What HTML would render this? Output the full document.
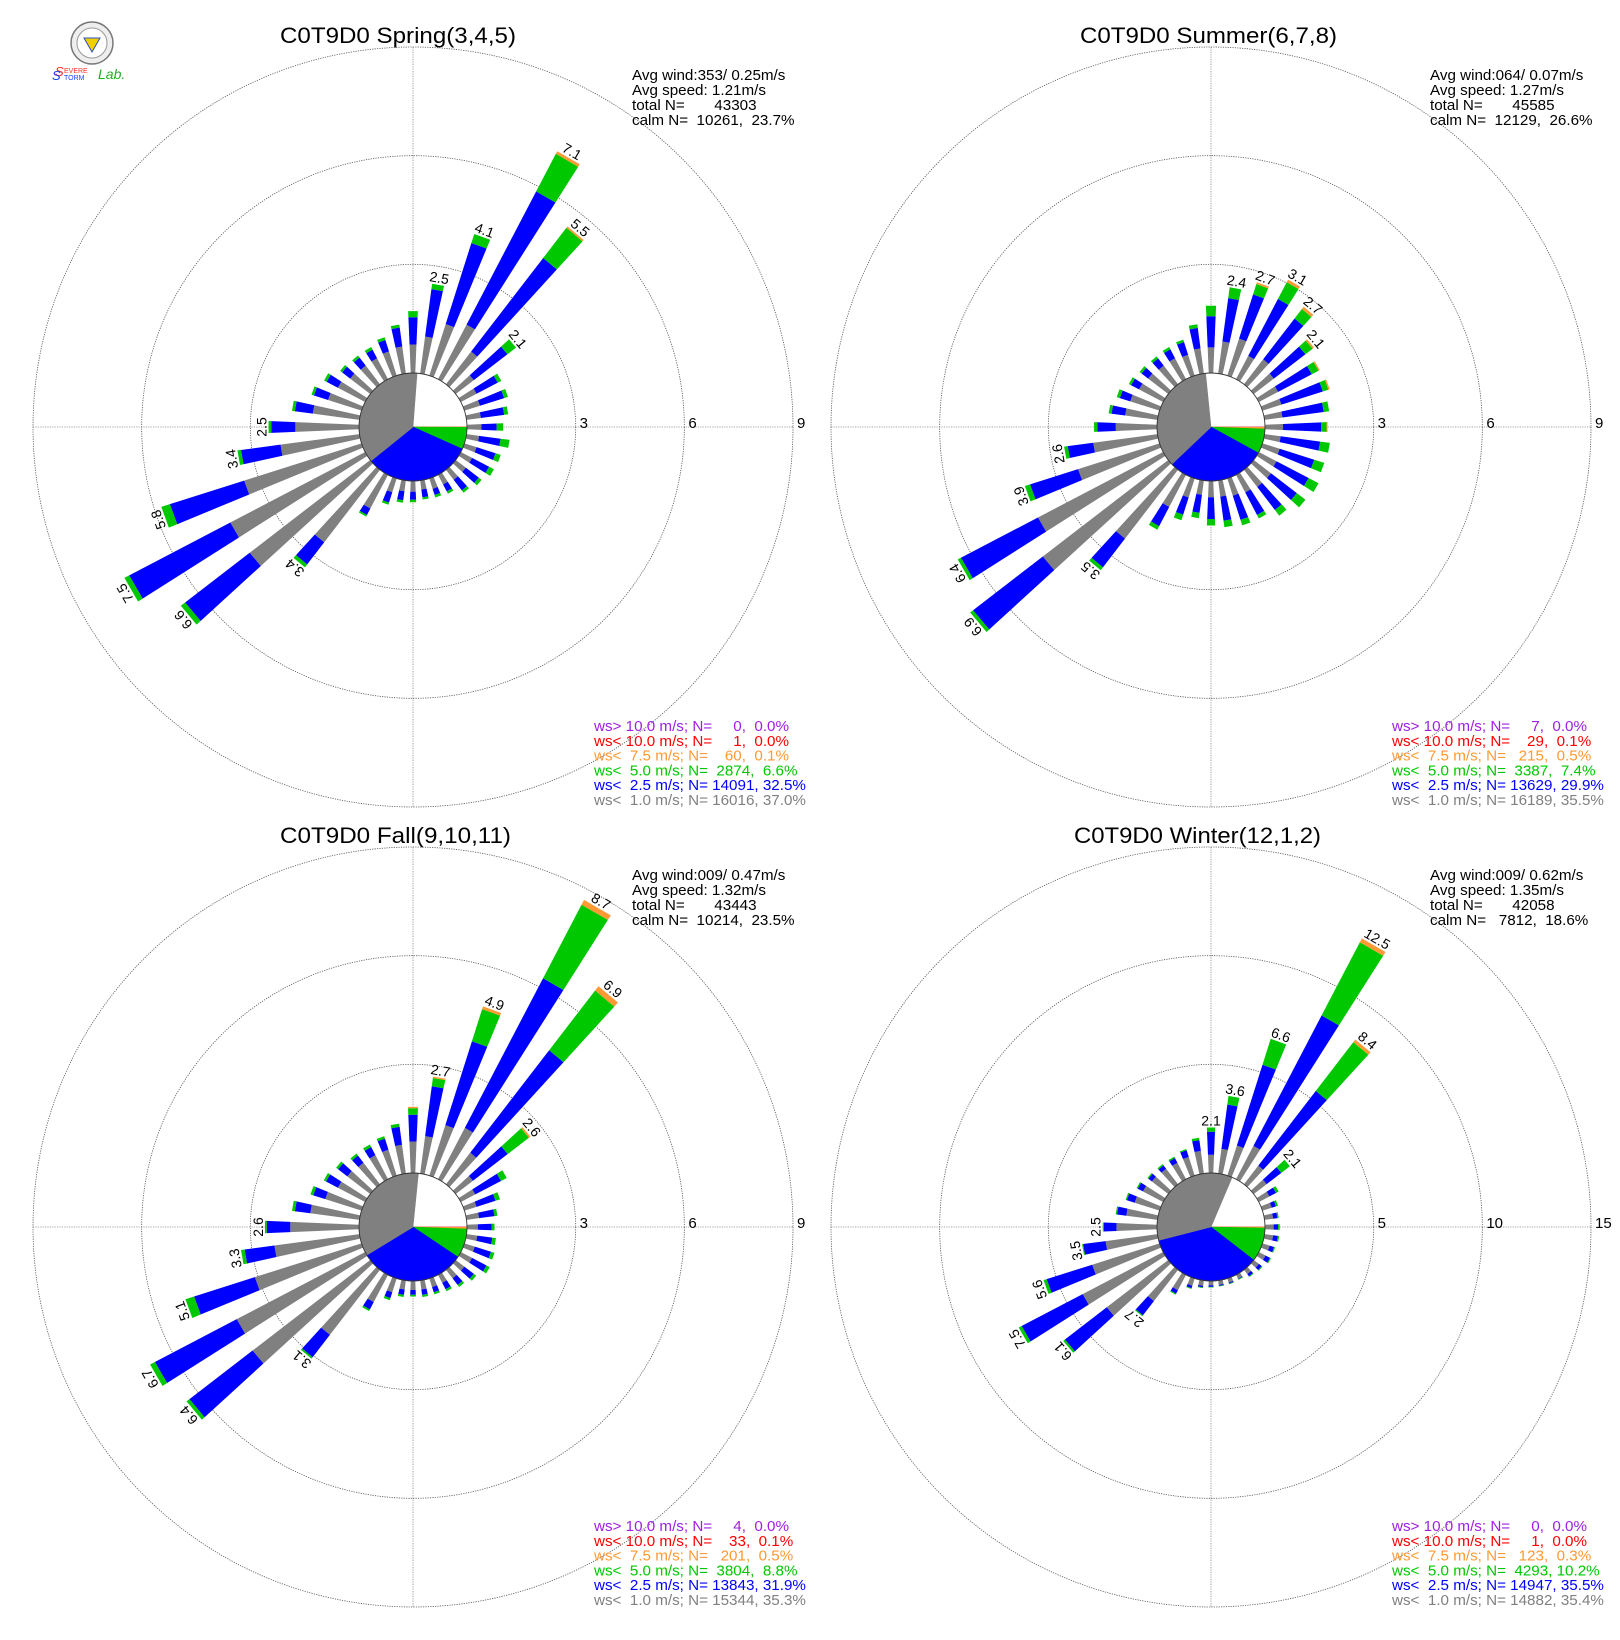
<!DOCTYPE html>
<html><head><meta charset="utf-8"><style>
html,body{margin:0;padding:0;background:#fff;}
svg{display:block;font-family:"Liberation Sans",sans-serif;}
</style></head><body>
<svg id="chart" width="1620" height="1640" viewBox="0 0 1620 1640" xmlns="http://www.w3.org/2000/svg">
<g>
<circle cx="92" cy="43" r="21" fill="#eee" stroke="#777" stroke-width="1.5"/>
<circle cx="92" cy="43" r="15" fill="#fff" stroke="#999" stroke-width="1"/>
<polygon points="84,38 100,38 92,52" fill="#f0d000" stroke="#3050c0" stroke-width="1"/>
<text x="55" y="76" font-size="13" font-style="italic" fill="#ff3020">S</text>
<text x="52" y="80" font-size="13" font-style="italic" fill="#2040ff">S</text>
<text x="64" y="73" font-size="7" fill="#ff3020">EVERE</text>
<text x="64" y="80" font-size="7" fill="#2040ff">TORM</text>
<text x="98" y="79" font-size="14" font-style="italic" fill="#20b020">Lab.</text>
</g>
</svg>
<script>
const directions = [0,10,20,30,40,50,60,70,80,90,100,110,120,130,140,150,160,170,180,190,200,210,220,230,240,250,260,270,280,290,300,310,320,330,340,350];

const spring_wsLt1 = [.79,1.03,1.49,1.7,1.14,.63,.49,.45,.4,.4,.35,.35,.35,.35,.35,.3,.3,.25,.3,.3,.4,1.05,2.53,4.2,4.2,3.4,2.2,1.76,1.3,.97,.85,.7,.65,.65,.7,.75];
const spring_wsLt25 = [1.54,2.35,3.84,5.85,4.4,1.8,1.15,1.15,1.05,.82,.95,.9,.88,.8,.72,.52,.48,.47,.52,.55,.7,1.25,3.3,6.45,7.35,5.55,3.3,2.42,1.8,1.38,1.2,.98,.93,.92,1.03,1.28];
const spring_total = [1.71,2.5,4.1,7.1,5.5,2.1,1.26,1.26,1.16,1.0,1.2,1.05,1.03,.9,.8,.59,.55,.53,.59,.62,.76,1.3,3.4,6.6,7.5,5.8,3.4,2.5,1.88,1.45,1.28,1.05,1.0,1.0,1.11,1.36];
const spring_orange = [0,0,0,.08,.05,0,0,0,0,0,0,0,0,0,0,0,0,0,0,0,0,0,0,0,0,0,0,0,0,0,0,0,0,0,0,0];

const summer_wsLt1 = [.71,.89,1.07,.73,.87,.7,.6,.55,.5,.5,.45,.5,.55,.6,.6,.55,.5,.45,.45,.4,.55,1.0,2.4,4.37,3.9,2.36,1.79,1.14,.9,.85,.75,.7,.65,.65,.6,.7];
const summer_wsLt25 = [1.57,2.1,2.35,2.5,2.29,1.8,1.65,1.75,1.65,1.55,1.55,1.5,1.55,1.5,1.4,1.25,1.2,1.12,1.05,.9,1.05,1.6,3.4,6.8,6.3,3.75,2.5,1.65,1.28,1.15,1.0,.93,.9,.93,.97,1.27];
const summer_total = [1.86,2.4,2.7,3.1,2.7,2.1,1.9,1.95,1.8,1.73,1.82,1.79,1.86,1.8,1.6,1.36,1.36,1.3,1.23,1.05,1.21,1.71,3.5,6.9,6.4,3.9,2.6,1.74,1.36,1.24,1.07,1.0,.97,1.0,1.04,1.37];
const summer_orange = [0,0,.05,.08,.08,.05,.04,.04,0,.03,0,0,0,0,0,0,0,0,0,0,0,0,0,0,0,0,0,0,0,0,0,0,0,0,0,0];

const fall_wsLt1 = [.87,1.04,1.46,1.6,1.1,.6,.45,.35,.35,.3,.3,.3,.35,.3,.3,.25,.25,.25,.25,.25,.4,.85,2.27,4.1,4.0,3.09,2.37,1.9,1.37,1.05,.85,.8,.75,.75,.75,.8];
const fall_wsLt25 = [1.61,2.43,3.89,6.26,4.67,1.81,1.25,.9,.78,.68,.72,.77,.8,.63,.53,.45,.4,.4,.38,.4,.57,1.08,3.05,6.3,6.55,4.85,3.2,2.55,1.8,1.4,1.22,1.12,1.0,1.0,1.07,1.3];
const fall_total = [1.83,2.7,4.9,8.7,6.9,2.6,1.43,1.03,.86,.76,.82,.87,.9,.71,.6,.51,.46,.46,.43,.46,.63,1.13,3.1,6.4,6.7,5.1,3.3,2.6,1.88,1.48,1.29,1.19,1.07,1.08,1.14,1.39];
const fall_orange = [.04,.04,.08,.15,.15,.05,0,0,0,0,0,0,0,0,0,0,0,0,0,0,0,0,0,0,0,0,0,0,0,0,0,0,0,0,0,0];

const winter_wsLt1 = [.84,1.14,1.45,1.73,1.08,.75,.55,.45,.4,.4,.4,.35,.35,.3,.25,.2,.2,.2,.2,.25,.35,.8,1.82,3.57,4.18,3.25,2.41,1.87,1.45,1.2,1.05,.95,.9,.85,.9,1.05];
const winter_wsLt25 = [1.9,3.2,5.35,8.5,5.42,1.6,.9,.65,.6,.6,.62,.56,.58,.46,.38,.23,.25,.25,.27,.32,.47,.98,2.65,6.0,7.35,5.45,3.45,2.45,1.88,1.58,1.32,1.15,1.1,1.1,1.22,1.55];
const winter_total = [2.1,3.6,6.6,12.5,8.4,2.1,1.03,.75,.66,.68,.68,.61,.63,.5,.42,.26,.28,.28,.3,.35,.51,1.03,2.7,6.1,7.5,5.6,3.5,2.5,1.94,1.64,1.38,1.21,1.17,1.17,1.28,1.66];
const winter_orange = [0,0,0,.2,.15,0,0,0,0,0,0,0,0,0,0,0,0,0,0,0,0,0,0,0,0,0,0,0,0,0,0,0,0,0,0,0];

const spring_classPct = [0.0,0.0,0.1,6.6,32.5,37.0];
const summer_classPct = [0.0,0.1,0.5,7.4,29.9,35.5];
const fall_classPct = [0.0,0.1,0.5,8.8,31.9,35.3];
const winter_classPct = [0.0,0.0,0.3,10.2,35.5,35.4];
const calmPct = [23.7,26.6,23.5,18.6];
const ringTicks = [[3,6,9],[3,6,9],[3,6,9],[5,10,15]];

const titles = ["C0T9D0 Spring(3,4,5)","C0T9D0 Summer(6,7,8)","C0T9D0 Fall(9,10,11)","C0T9D0 Winter(12,1,2)"];
const infoLines = [
 ["Avg wind:353/ 0.25m/s","Avg speed: 1.21m/s","total N=       43303","calm N=  10261,  23.7%"],
 ["Avg wind:064/ 0.07m/s","Avg speed: 1.27m/s","total N=       45585","calm N=  12129,  26.6%"],
 ["Avg wind:009/ 0.47m/s","Avg speed: 1.32m/s","total N=       43443","calm N=  10214,  23.5%"],
 ["Avg wind:009/ 0.62m/s","Avg speed: 1.35m/s","total N=       42058","calm N=   7812,  18.6%"]];
const legendLines = [
 ["ws> 10.0 m/s; N=     0,  0.0%","ws< 10.0 m/s; N=     1,  0.0%","ws<  7.5 m/s; N=    60,  0.1%","ws<  5.0 m/s; N=  2874,  6.6%","ws<  2.5 m/s; N= 14091, 32.5%","ws<  1.0 m/s; N= 16016, 37.0%"],
 ["ws> 10.0 m/s; N=     7,  0.0%","ws< 10.0 m/s; N=    29,  0.1%","ws<  7.5 m/s; N=   215,  0.5%","ws<  5.0 m/s; N=  3387,  7.4%","ws<  2.5 m/s; N= 13629, 29.9%","ws<  1.0 m/s; N= 16189, 35.5%"],
 ["ws> 10.0 m/s; N=     4,  0.0%","ws< 10.0 m/s; N=    33,  0.1%","ws<  7.5 m/s; N=   201,  0.5%","ws<  5.0 m/s; N=  3804,  8.8%","ws<  2.5 m/s; N= 13843, 31.9%","ws<  1.0 m/s; N= 15344, 35.3%"],
 ["ws> 10.0 m/s; N=     0,  0.0%","ws< 10.0 m/s; N=     1,  0.0%","ws<  7.5 m/s; N=   123,  0.3%","ws<  5.0 m/s; N=  4293, 10.2%","ws<  2.5 m/s; N= 14947, 35.5%","ws<  1.0 m/s; N= 14882, 35.4%"]];

const COLORS = {purple:"#a020e0",red:"#ff0000",orange:"#ff9933",green:"#00c800",blue:"#0000ff",gray:"#808080"};
const legendColors = [COLORS.purple,COLORS.red,COLORS.orange,COLORS.green,COLORS.blue,COLORS.gray];
const pieColors = [COLORS.purple,COLORS.red,COLORS.orange,COLORS.green,COLORS.blue,COLORS.gray];

const roses = [
 {name:"spring",cx:413,cy:427,max:9,g:spring_wsLt1,b:spring_wsLt25,t:spring_total,o:spring_orange,pie:spring_classPct,titleX:280,titleW:236},
 {name:"summer",cx:1211,cy:427,max:9,g:summer_wsLt1,b:summer_wsLt25,t:summer_total,o:summer_orange,pie:summer_classPct,titleX:1080,titleW:257},
 {name:"fall",cx:413,cy:1227,max:9,g:fall_wsLt1,b:fall_wsLt25,t:fall_total,o:fall_orange,pie:fall_classPct,titleX:280,titleW:231},
 {name:"winter",cx:1211,cy:1227,max:15,g:winter_wsLt1,b:winter_wsLt25,t:winter_total,o:winter_orange,pie:winter_classPct,titleX:1074,titleW:247}
];

const NS="http://www.w3.org/2000/svg";
const svg=document.getElementById('chart');
const R0=54, ROUT=380, HALF=2.4;
function mk(tag,attrs,parent){const e=document.createElementNS(NS,tag);for(const k in attrs)e.setAttribute(k,attrs[k]);(parent||svg).appendChild(e);return e;}
function pt(cx,cy,r,deg){const a=deg*Math.PI/180;return [cx+r*Math.sin(a),cy-r*Math.cos(a)];}

roses.forEach((rs,ri)=>{
  const rScale=v=>R0+v*(ROUT-R0)/rs.max;
  const g=mk('g',{});
  
  
  const {cx,cy}=rs;
  const tt=mk('text',{x:rs.titleX,y:rs.cy-384,'font-size':22,textLength:rs.titleW,lengthAdjust:'spacingAndGlyphs',fill:'#000'},g);
  tt.textContent=titles[ri];
  
  
  const ax1=mk('line',{x1:cx-ROUT,y1:cy,x2:cx+ROUT,y2:cy,stroke:'#888','stroke-width':0.8,'stroke-dasharray':'1.2,1.2'},g);
  
  
  const ax2=mk('line',{x1:cx,y1:cy-ROUT,x2:cx,y2:cy+ROUT,stroke:'#888','stroke-width':0.8,'stroke-dasharray':'1.2,1.2'},g);
  
  
  ringTicks[ri].forEach(v=>{
    const rr=rScale(v);
    const c=mk('circle',{cx:cx,cy:cy,r:rr,fill:'none',stroke:'#555','stroke-width':0.8,'stroke-dasharray':'1.2,1.2'},g);
    
    
    const lt=mk('text',{x:cx+rr+4,y:cy+1,'font-size':15,fill:'#000'},g);
    lt.textContent=String(v);
    
    
  });
  directions.forEach((d,i)=>{
    const gv=rs.g[i], bv=rs.b[i], tv=rs.t[i], ov=rs.o[i];
    const segs=[[0,gv,COLORS.gray,'lt1'],[gv,bv,COLORS.blue,'lt25'],[bv,tv-ov,COLORS.green,'lt5'],[tv-ov,tv,COLORS.orange,'lt75']];
    segs.forEach(s=>{
      if(s[1]<=s[0])return;
      const r1=rScale(s[0]),r2=rScale(s[1]);
      const p1=pt(cx,cy,r1,d-HALF),p2=pt(cx,cy,r2,d-HALF),p3=pt(cx,cy,r2,d+HALF),p4=pt(cx,cy,r1,d+HALF);
      const p=mk('polygon',{points:[p1,p2,p3,p4].map(q=>q[0].toFixed(2)+','+q[1].toFixed(2)).join(' '),fill:s[2]},g);
      
      
    });
    if(tv>=2.05){
      const q=pt(cx,cy,rScale(tv)+2,d);
      const lb=mk('text',{x:0,y:0,'font-size':14,'text-anchor':'middle',fill:'#000',transform:'translate('+q[0].toFixed(2)+','+q[1].toFixed(2)+') rotate('+d+')'},g);
      lb.textContent=tv.toFixed(1);
      
      
    }
  });
  const calmStart=90-calmPct[ri]*3.6;
  function arc(a1,a2,fill,nm){
    const p1=pt(cx,cy,R0,a1),p2=pt(cx,cy,R0,a2);
    const large=(a2-a1)>180?1:0;
    const e=mk('path',{d:`M${cx},${cy} L${p1[0].toFixed(2)},${p1[1].toFixed(2)} A${R0},${R0} 0 ${large} 1 ${p2[0].toFixed(2)},${p2[1].toFixed(2)} Z`,fill:fill,stroke:fill,'stroke-width':0.6},g);
    
    
  }
  arc(calmStart,90,'#fff','pie-calm');
  let a=90;
  rs.pie.forEach((pc,k)=>{const a2=a+pc*3.6;arc(a,a2,pieColors[k],'pie-class-'+k);a=a2;});
  const oc=mk('circle',{cx:cx,cy:cy,r:R0,fill:'none',stroke:'#333','stroke-width':0.9},g);
  
  
  infoLines[ri].forEach((ln,k)=>{
    const t=mk('text',{x:cx+219,y:cy-347+k*15,'font-size':15.2,fill:'#000',style:'white-space:pre'},g);
    t.textContent=ln;
    
    
  });
  legendLines[ri].forEach((ln,k)=>{
    const t=mk('text',{x:cx+181,y:cy+304+k*14.8,'font-size':15.2,fill:legendColors[k],style:'white-space:pre'},g);
    t.textContent=ln;
    
    
  });
});
</script>
</body></html>
